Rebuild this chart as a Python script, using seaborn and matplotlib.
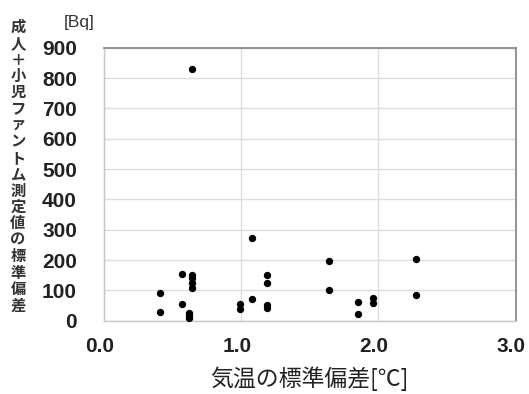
import matplotlib
matplotlib.use("Agg")
import matplotlib.pyplot as plt
import matplotlib.transforms as mtransforms
import seaborn as sns
import pandas as pd

# data
temp_sd = [0.64, 0.41, 0.41, 0.57, 0.57, 0.64, 0.64, 0.64, 0.64,
           0.62, 0.62, 0.62, 0.99, 0.99, 1.08, 1.08, 1.19, 1.19,
           1.19, 1.19, 1.64, 1.64, 1.85, 1.85, 1.96, 1.96, 2.27, 2.27]
bq_sd = [830, 91, 29, 154, 54, 152, 140, 125, 108,
         26, 17, 10, 55, 40, 274, 72, 151, 125,
         52, 41, 196, 101, 63, 21, 76, 57, 203, 85]
x_ticks = [0.0, 1.0, 2.0, 3.0]
x_ticklabels = ["0.0", "1.0", "2.0", "3.0"]
y_ticks = [0, 100, 200, 300, 400, 500, 600, 700, 800, 900]
x_label = "気温の標準偏差[℃]"
y_label = "成人＋小児ファントム測定値の標準偏差"
unit_label = "[Bq]"

df = pd.DataFrame({"x": temp_sd, "y": bq_sd})

sns.set_style("white")
plt.rcParams["font.family"] = ["Noto Sans CJK JP", "DejaVu Sans"]

fig = plt.figure(figsize=(5.29, 3.94), dpi=100)
ax = fig.add_axes([104 / 529, 1 - 320.7 / 394, (515.7 - 104) / 529, (320.7 - 47.7) / 394])

sns.scatterplot(data=df, x="x", y="y", ax=ax, color="black", s=28,
                edgecolor="black", linewidth=0, zorder=3)

ax.set_xlim(0, 3)
ax.set_ylim(0, 900)
ax.set_xticks(x_ticks)
ax.set_xticklabels(x_ticklabels)
ax.set_yticks(y_ticks)
ax.grid(True, color="#dddddd", linewidth=1.0)
ax.set_axisbelow(True)
for side in ["top", "right"]:
    ax.spines[side].set_color("#8a8a8a")
    ax.spines[side].set_linewidth(1.3)
for side in ["left", "bottom"]:
    ax.spines[side].set_color("#c8c8c8")
    ax.spines[side].set_linewidth(1.0)

ax.tick_params(axis="both", length=0)
ax.tick_params(axis="y", pad=19.5)
ax.tick_params(axis="x", pad=12)
for lab in ax.get_xticklabels() + ax.get_yticklabels():
    lab.set_fontfamily(["Liberation Sans", "DejaVu Sans"])
    lab.set_fontweight("bold")
    lab.set_fontsize(15)
    lab.set_color("#222222")
shift = mtransforms.ScaledTranslation(-4.5 / 100, 0, fig.dpi_scale_trans)
for lab in ax.get_xticklabels():
    lab.set_transform(lab.get_transform() + shift)

ax.set_xlabel("")
ax.set_ylabel("")
fig.text(309 / 529, 1 - 379 / 394, x_label, ha="center", va="center",
         fontsize=16.5, color="#222222")
fig.text(18 / 529, 1 - 166 / 394, "\n".join(y_label), ha="center", va="center",
         fontsize=11, fontweight="bold", color="#333333", linespacing=1.03)
fig.text(79 / 529, 1 - 23 / 394, unit_label, ha="center", va="center",
         fontsize=12.5, color="#333333",
         fontfamily=["Liberation Sans", "DejaVu Sans"])

fig.savefig("out.png", dpi=100)
